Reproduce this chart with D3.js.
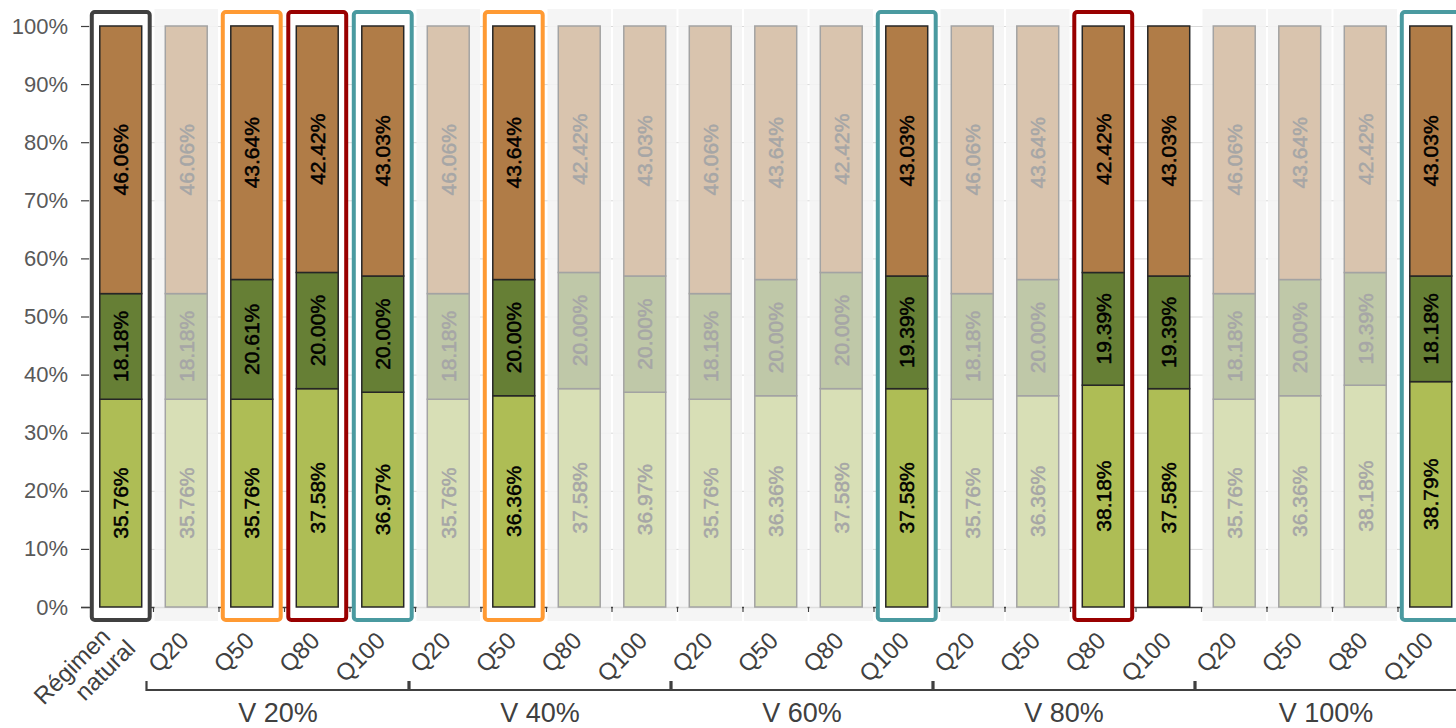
<!DOCTYPE html>
<html>
<head>
<meta charset="utf-8">
<script src="https://cdn.jsdelivr.net/npm/d3@7/dist/d3.min.js"></script>
<style>
  html, body { margin: 0; padding: 0; background: #fff; }
  svg { display: block; font-family: "Liberation Sans", Arial, sans-serif; }
</style>
</head>
<body>
<svg id="chart" width="1456" height="728"></svg>
<script>
// Scenario labels
const baseLabel = ["Régimen", "natural"];
const groups = ["V 20%", "V 40%", "V 60%", "V 80%", "V 100%"];
const flows = ["Q20", "Q50", "Q80", "Q100"];

// Share of each class per scenario (%), base case first, then V20..V100 × Q20..Q100
const lowerPct  = [35.76, 35.76, 35.76, 37.58, 36.97, 35.76, 36.36, 37.58, 36.97, 35.76, 36.36, 37.58, 37.58, 35.76, 36.36, 38.18, 37.58, 35.76, 36.36, 38.18, 38.79];
const middlePct = [18.18, 18.18, 20.61, 20.00, 20.00, 18.18, 20.00, 20.00, 20.00, 18.18, 20.00, 20.00, 19.39, 18.18, 20.00, 19.39, 19.39, 18.18, 20.00, 19.39, 18.18];
const upperPct  = [46.06, 46.06, 43.64, 42.42, 43.03, 46.06, 43.64, 42.42, 43.03, 46.06, 43.64, 42.42, 43.03, 46.06, 43.64, 42.42, 43.03, 46.06, 43.64, 42.42, 43.03];

// Which scenarios are shown in full colour, and which are framed (by frame kind)
const emphasized = [1, 0, 1, 1, 1, 0, 1, 0, 0, 0, 0, 0, 1, 0, 0, 1, 1, 0, 0, 0, 1];
const frameKind  = ["base", "", "Q50", "Q80", "Q100", "", "Q50", "", "", "", "", "", "Q100", "", "", "Q80", "", "", "", "", "Q100"];

const yTicks = [0, 10, 20, 30, 40, 50, 60, 70, 80, 90, 100];

// ---- styling ----
const fullColors  = ["#aebd55", "#667f35", "#b07c47"];
const fadedColors = ["#d8dfb6", "#bfc8a8", "#d9c4ae"];
const frameColors = { base: "#404040", Q50: "#ff9a33", Q80: "#990000", Q100: "#4a9aa0" };

const n = lowerPct.length;
const rows = d3.range(n).map(i => ({
  i,
  lower: lowerPct[i], middle: middlePct[i], upper: upperPct[i],
  on: emphasized[i] === 1,
  frame: frameKind[i]
}));
const keys = ["lower", "middle", "upper"];
const stacked = d3.stack().keys(keys)(rows);

const svg = d3.select("#chart");

const x = d3.scaleBand()
  .domain(d3.range(n))
  .range([88, 1463.5])
  .paddingInner(0.36)
  .paddingOuter(0.18);
const step = x.step();
const bw = x.bandwidth();
const bandStart = i => x(i) - (step - bw) / 2;

const y = d3.scaleLinear().domain([0, 100]).range([607, 26]);

// gridlines
svg.append("g")
  .selectAll("line")
  .data(yTicks)
  .join("line")
  .attr("x1", 89).attr("x2", 1456)
  .attr("y1", d => y(d) + 0.5).attr("y2", d => y(d) + 0.5)
  .attr("stroke", "#d9d9d9").attr("stroke-width", 1);

// category axis line and boundary ticks
svg.append("line")
  .attr("x1", 81).attr("x2", 1456)
  .attr("y1", y(0) + 0.5).attr("y2", y(0) + 0.5)
  .attr("stroke", "#404040").attr("stroke-width", 1.5);
svg.append("g")
  .selectAll("line")
  .data(d3.range(1, n))
  .join("line")
  .attr("x1", d => bandStart(d)).attr("x2", d => bandStart(d))
  .attr("y1", y(0)).attr("y2", y(0) + 5)
  .attr("stroke", "#404040").attr("stroke-width", 1.2);

// light panels behind the faded scenarios
svg.append("g")
  .selectAll("rect")
  .data(rows.filter(d => !d.on))
  .join("rect")
  .attr("x", d => bandStart(d.i) + 1)
  .attr("width", step - 2)
  .attr("y", 9)
  .attr("height", 612)
  .attr("fill", "#f4f4f4")
  .attr("fill-opacity", 0.88);

// frame backgrounds
const framed = rows.filter(d => d.frame);
svg.append("g")
  .selectAll("rect")
  .data(framed)
  .join("rect")
  .attr("x", d => x(d.i) - 8)
  .attr("width", bw + 16)
  .attr("y", 12)
  .attr("height", 608)
  .attr("fill", "#fff");

// y axis
const yAxis = d3.axisLeft(y)
  .tickValues(yTicks)
  .tickFormat(d => d + "%")
  .tickSize(8)
  .tickPadding(13);
const gy = svg.append("g").attr("transform", "translate(89,0)").call(yAxis);
gy.select(".domain").remove();
gy.selectAll(".tick line").attr("stroke", "#404040").attr("stroke-width", 1.2);
gy.selectAll(".tick text")
  .attr("fill", "#595959")
  .style("font-size", "22px")
  .style("font-family", "'Liberation Sans', Arial, sans-serif");

// stacked bars
const layers = svg.append("g")
  .selectAll("g")
  .data(stacked)
  .join("g");
layers.selectAll("rect")
  .data((s, k) => s.map(seg => ({ seg, k })))
  .join("rect")
  .attr("x", d => x(d.seg.data.i))
  .attr("width", bw)
  .attr("y", d => y(d.seg[1]))
  .attr("height", d => y(d.seg[0]) - y(d.seg[1]))
  .attr("fill", d => d.seg.data.on ? fullColors[d.k] : fadedColors[d.k])
  .attr("stroke", d => d.seg.data.on ? "#262626" : "#a3a3a3")
  .attr("stroke-width", 1.5);

// value labels, rotated inside each segment
layers.selectAll("text")
  .data((s, k) => s.map(seg => ({ seg, k })))
  .join("text")
  .attr("transform", d => {
    const cx = x(d.seg.data.i) + bw / 2;
    const cy = y((d.seg[0] + d.seg[1]) / 2);
    return `translate(${cx},${cy}) rotate(-90)`;
  })
  .attr("text-anchor", "middle")
  .attr("dominant-baseline", "central")
  .attr("fill", d => d.seg.data.on ? "#000" : "#a6a6a6")
  .attr("stroke", d => d.seg.data.on ? "#000" : "#a6a6a6")
  .attr("stroke-width", 0.5)
  .style("font-size", "21px")
  .text(d => (d.seg[1] - d.seg[0]).toFixed(2) + "%");

// frame outlines
svg.append("g")
  .selectAll("rect")
  .data(framed)
  .join("rect")
  .attr("x", d => x(d.i) - 8)
  .attr("width", bw + 16)
  .attr("y", 12)
  .attr("height", 608)
  .attr("rx", 3)
  .attr("fill", "none")
  .attr("stroke", d => frameColors[d.frame])
  .attr("stroke-width", 4);

// category labels (rotated)
const catLabels = svg.append("g")
  .style("font-size", "24px")
  .attr("fill", "#404040");

const base = catLabels.append("text")
  .attr("transform", `translate(${x(0) + bw / 2 + 6},641) rotate(-45)`)
  .attr("text-anchor", "end");
base.append("tspan").attr("x", -8.5).attr("y", -12.7).text(baseLabel[0]);
base.append("tspan").attr("x", 0.7).attr("y", 13.4).text(baseLabel[1]);

const flowRows = d3.range(1, n).map(i => ({ i, label: flows[(i - 1) % flows.length] }));
catLabels.selectAll("text.flow")
  .data(flowRows)
  .join("text")
  .attr("class", "flow")
  .attr("transform", d => `translate(${x(d.i) + bw / 2 + 4},642) rotate(-45)`)
  .attr("text-anchor", "end")
  .text(d => d.label);

// group brackets
const gb = svg.append("g");
groups.forEach((g, gi) => {
  const first = 1 + gi * flows.length;
  const last = first + flows.length - 1;
  const x0 = bandStart(first) - 7;
  const x1 = Math.min(bandStart(last) + step - 6, 1460);
  gb.append("path")
    .attr("d", `M${x0},681V690H${x1}V681`)
    .attr("fill", "none")
    .attr("stroke", "#404040")
    .attr("stroke-width", 2.2);
  gb.append("text")
    .attr("x", (bandStart(first) - 7 + bandStart(last) + step - 6) / 2)
    .attr("y", 722)
    .attr("text-anchor", "middle")
    .attr("fill", "#404040")
    .style("font-size", "27px")
    .text(g);
});
</script>
</body>
</html>
